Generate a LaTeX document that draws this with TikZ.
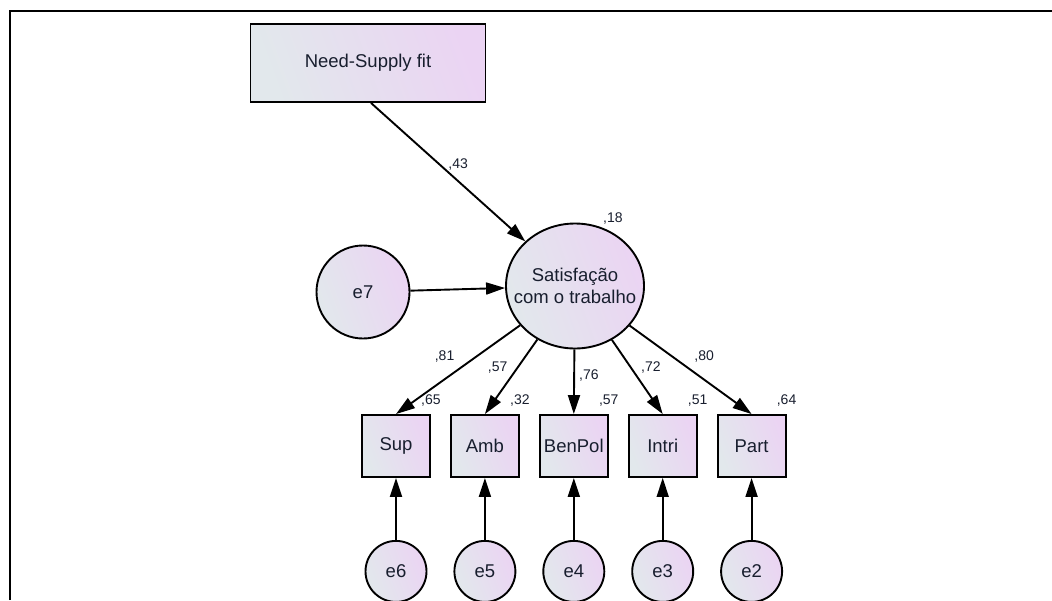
\documentclass[tikz,border=0pt]{standalone}
\usepackage{fontspec}
\setmainfont{Liberation Sans}
\definecolor{gl}{RGB}{226,232,236}
\definecolor{gr}{RGB}{235,212,243}
\definecolor{ink}{RGB}{24,30,46}
\usetikzlibrary{positioning, shapes.geometric, arrows.meta}

\tikzset{
    path/.style = {line width=1.9pt, -{Triangle[length=19pt, width=12pt]}},
    obs/.style = {draw, line width=1.9pt, left color=gl, right color=gr,
                  shading angle=110, text=ink,
                  font=\fontsize{18.5}{21}\selectfont},
    lat/.style = {obs, ellipse, inner sep=0pt},
    num/.style = {font=\fontsize{14}{16}\selectfont, text=ink, inner sep=1pt}
}

\begin{document}
\begin{tikzpicture}[x=1pt, y=-1pt]
    \useasboundingbox (0,0) rectangle (1052,600);
    \draw [line width=1.9pt] (10,600) -- (10,11) -- (1052,11);

    \node (fit) [ obs,
                  minimum width=235pt, minimum height=78pt] at (368,63) {Need-Supply fit};
    \node (sat) [ lat,
                  minimum width=138pt, minimum height=125pt,
                  label={[text=ink, align=center, font=\fontsize{18.5}{22}\selectfont]center:Satisfação\\com o trabalho},
                  label={[num, label distance=2pt]66:,18}] at (575,286) {};
    \node (e7) [ lat,
                 minimum width=93pt, minimum height=93pt] at (363,292) {e7};

    % indicators
    \node (sup) [ obs, minimum width=68pt, minimum height=62pt,
                  label={[num, anchor=south, yshift=7pt]north east:,65}] at (396,446) {Sup};
    \node (amb) [ obs, minimum width=68pt, minimum height=62pt, right=19pt of sup,
                  label={[num, anchor=south, yshift=7pt]north east:,32}] {Amb};
    \node (ben) [ obs, minimum width=68pt, minimum height=62pt, right=19pt of amb, inner sep=1pt,
                  label={[num, anchor=south, yshift=7pt]north east:,57}] {BenPol};
    \node (intri) [ obs, minimum width=68pt, minimum height=62pt, right=19pt of ben,
                    label={[num, anchor=south, yshift=7pt]north east:,51}] {Intri};
    \node (part) [ obs, minimum width=68pt, minimum height=62pt, right=19pt of intri,
                   label={[num, anchor=south, yshift=7pt]north east:,64}] {Part};

    % errors
    \node (e6) [ lat, minimum width=61pt, minimum height=61pt, below=62pt of sup] {e6};
    \node (e5) [ lat, minimum width=61pt, minimum height=61pt, below=62pt of amb] {e5};
    \node (e4) [ lat, minimum width=61pt, minimum height=61pt, below=62pt of ben] {e4};
    \node (e3) [ lat, minimum width=61pt, minimum height=61pt, below=62pt of intri] {e3};
    \node (e2) [ lat, minimum width=61pt, minimum height=61pt, below=62pt of part] {e2};

    \coordinate (fitout) at ([xshift=3pt]fit.south);
    \draw [path] (fitout) -- node [num, above right=-7pt and 6pt, pos=0.45] {,43} (sat);
    \draw [path] (e7) -- (sat);

    \draw [path] (sat) -- node [num, above left=1pt and 8pt, pos=0.45] {,81} (sup.north);
    \draw [path] (sat) -- node [num, above left=-4pt and 6pt, pos=0.42] {,57} (amb.north);
    \draw [path] (sat) -- node [num, right=3pt, pos=0.4] {,76} (ben.north);
    \draw [path] (sat) -- node [num, above right=-4pt and 6pt, pos=0.42] {,72} (intri.north);
    \draw [path] (sat) -- node [num, above right=1pt and 8pt, pos=0.45] {,80} (part.north);

    \draw [path] (e6) -- (sup);
    \draw [path] (e5) -- (amb);
    \draw [path] (e4) -- (ben);
    \draw [path] (e3) -- (intri);
    \draw [path] (e2) -- (part);
\end{tikzpicture}
\end{document}
